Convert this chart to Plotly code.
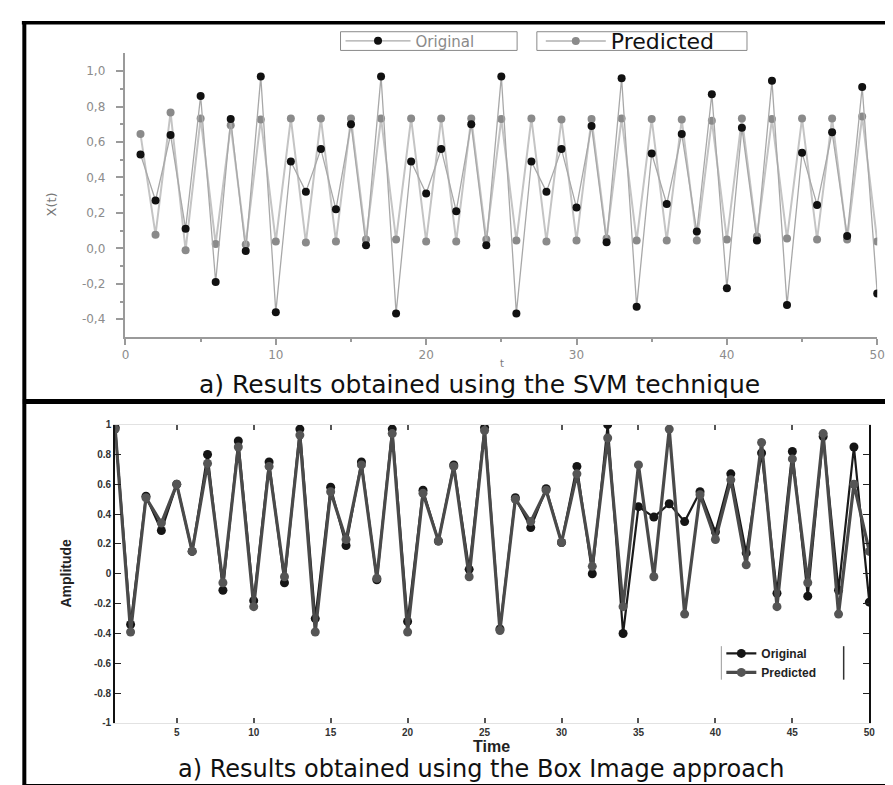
import plotly.graph_objects as go

W, H = 893, 785

# ---------------- data ----------------
t_svm = list(range(1, 51))
svm_original = [0.53, 0.27, 0.64, 0.11, 0.86, -0.19, 0.73, -0.015, 0.97, -0.36,
                0.49, 0.32, 0.56, 0.22, 0.70, 0.017, 0.97, -0.367, 0.49, 0.31,
                0.56, 0.21, 0.70, 0.017, 0.97, -0.367, 0.49, 0.32, 0.56, 0.23,
                0.69, 0.035, 0.96, -0.33, 0.535, 0.25, 0.645, 0.095, 0.87, -0.225,
                0.68, 0.045, 0.945, -0.32, 0.54, 0.245, 0.655, 0.07, 0.91, -0.255]
svm_predicted = [0.645, 0.077, 0.767, -0.01, 0.733, 0.025, 0.694, 0.022, 0.727, 0.039,
                 0.733, 0.033, 0.733, 0.039, 0.733, 0.05, 0.733, 0.05, 0.733, 0.039,
                 0.733, 0.039, 0.733, 0.05, 0.73, 0.044, 0.733, 0.039, 0.727, 0.044,
                 0.73, 0.055, 0.733, 0.044, 0.73, 0.044, 0.727, 0.044, 0.72, 0.05,
                 0.733, 0.067, 0.73, 0.055, 0.733, 0.05, 0.733, 0.05, 0.744, 0.039]

t_box = list(range(1, 51))
box_original = [0.98, -0.34, 0.52, 0.29, 0.60, 0.15, 0.80, -0.11, 0.89, -0.18,
                0.75, -0.06, 0.97, -0.30, 0.58, 0.19, 0.75, -0.04, 0.97, -0.32,
                0.56, 0.22, 0.73, 0.03, 0.98, -0.37, 0.51, 0.31, 0.57, 0.21,
                0.72, 0.00, 1.00, -0.40, 0.45, 0.38, 0.47, 0.35, 0.55, 0.28,
                0.67, 0.14, 0.81, -0.13, 0.82, -0.15, 0.92, -0.11, 0.85, -0.19]
box_predicted = [0.97, -0.39, 0.51, 0.34, 0.60, 0.15, 0.74, -0.06, 0.85, -0.22,
                 0.72, -0.02, 0.93, -0.39, 0.55, 0.23, 0.73, -0.03, 0.94, -0.39,
                 0.54, 0.22, 0.72, -0.02, 0.96, -0.38, 0.50, 0.35, 0.56, 0.21,
                 0.67, 0.05, 0.91, -0.22, 0.73, -0.02, 0.97, -0.27, 0.53, 0.23,
                 0.63, 0.06, 0.88, -0.22, 0.77, -0.06, 0.94, -0.27, 0.60, 0.15]

svm_yticks = [-0.4, -0.2, 0.0, 0.2, 0.4, 0.6, 0.8, 1.0]
svm_yticklabels = ["-0,4", "-0,2", "0,0", "0,2", "0,4", "0,6", "0,8", "1,0"]
svm_xticks = [0, 10, 20, 30, 40, 50]
box_yticks = [-1, -0.8, -0.6, -0.4, -0.2, 0, 0.2, 0.4, 0.6, 0.8, 1]
box_yticklabels = ["-1", "-0.8", "-0.6", "-0.4", "-0.2", "0", "0.2", "0.4", "0.6", "0.8", "1"]
box_xticks = [5, 10, 15, 20, 25, 30, 35, 40, 45, 50]

title_svm = "a) Results obtained using the SVM technique"
title_box = "a) Results obtained using the Box Image approach"


def px(x):
    return x / W


def py(y):
    return 1 - y / H


fig = go.Figure()

# ---------------- top panel (SVM) ----------------
fig.add_trace(go.Scatter(
    x=t_svm, y=svm_predicted, name="Predicted", mode="lines+markers",
    line=dict(color="#c4c4c4", width=2),
    marker=dict(color="#8a8a8a", size=8),
    xaxis="x", yaxis="y", legend="legend2"))
fig.add_trace(go.Scatter(
    x=t_svm, y=svm_original, name="Original", mode="lines+markers",
    line=dict(color="#a8a8a8", width=1.3),
    marker=dict(color="#111111", size=8),
    xaxis="x", yaxis="y", legend="legend"))

# ---------------- bottom panel (Box Image) ----------------
fig.add_trace(go.Scatter(
    x=t_box, y=box_original, name="Original", mode="lines+markers",
    line=dict(color="#1a1a1a", width=2.2),
    marker=dict(color="#151515", size=9),
    xaxis="x2", yaxis="y2", legend="legend3"))
fig.add_trace(go.Scatter(
    x=t_box, y=box_predicted, name="Predicted", mode="lines+markers",
    line=dict(color="#4a4a4a", width=3.2),
    marker=dict(color="#555555", size=9),
    xaxis="x2", yaxis="y2", legend="legend3"))

grey = "#9a9a9a"
fig.update_layout(
    width=W, height=H,
    margin=dict(l=0, r=0, t=0, b=0),
    paper_bgcolor="white", plot_bgcolor="white",
    font=dict(family="DejaVu Sans", color="#222"),
    xaxis=dict(domain=[px(115), px(877)], range=[0, 50], anchor="y",
               tickvals=svm_xticks, ticks="outside", ticklen=6, tickwidth=1.5,
               tickcolor=grey, showline=True, linecolor=grey, linewidth=1.5,
               showgrid=False, zeroline=False,
               tickfont=dict(family="DejaVu Sans", size=12, color="#8c8c8c"),
               minor=dict(tickvals=[5, 15, 25, 35, 45], ticks="outside",
                          ticklen=3, tickcolor=grey, tickwidth=1.5)),
    yaxis=dict(domain=[py(328), py(40)], range=[-0.5, 1.1], anchor="x",
               tickvals=svm_yticks, ticktext=svm_yticklabels,
               ticks="outside", ticklen=8, tickwidth=1.5, tickcolor=grey,
               showline=True, linecolor=grey, linewidth=1.5,
               showgrid=False, zeroline=False, ticklabelstandoff=8,
               tickfont=dict(family="DejaVu Sans", size=12, color="#8c8c8c"),
               minor=dict(tickvals=[-0.3, -0.1, 0.1, 0.3, 0.5, 0.7, 0.9],
                          ticks="outside", ticklen=4, tickcolor=grey, tickwidth=1.5)),
    xaxis2=dict(domain=[px(104.6), px(869)], range=[1, 50], anchor="y2",
                tickvals=box_xticks, ticks="inside", ticklen=5, tickwidth=1.5,
                tickcolor="#555", showline=True, linecolor="#e2e2e2", linewidth=1,
                mirror="ticks", showgrid=False, zeroline=False,
                tickfont=dict(family="Liberation Sans", size=10, color="#333",
                              weight="bold")),
    yaxis2=dict(domain=[py(720), py(417)], range=[-1, 1], anchor="x2",
                tickvals=box_yticks, ticktext=box_yticklabels,
                ticks="inside", ticklen=6, tickwidth=1.2, tickcolor="#222",
                showline=True, linecolor="#111", linewidth=2, mirror="ticks",
                showgrid=False, zeroline=False,
                tickfont=dict(family="Liberation Sans", size=10, color="#333",
                              weight="bold")),
    legend=dict(x=px(333), y=py(27.5), xanchor="left", yanchor="middle",
                orientation="h", borderwidth=0, bgcolor="rgba(0,0,0,0)",
                itemwidth=65,
                font=dict(family="DejaVu Sans", size=15, color="#8a8a8a")),
    legend2=dict(x=px(536), y=py(27.5), xanchor="left", yanchor="middle",
                 orientation="h", borderwidth=0, bgcolor="rgba(0,0,0,0)",
                 itemwidth=60,
                 font=dict(family="DejaVu Sans", size=22, color="#111")),
    legend3=dict(x=px(719), y=py(659), xanchor="left", yanchor="middle",
                 orientation="v", borderwidth=0, bgcolor="rgba(0,0,0,0)",
                 tracegroupgap=0, itemwidth=30,
                 font=dict(family="Liberation Sans", size=12, color="#222",
                           weight="bold")),
    showlegend=True,
)

# axis titles and panel captions as text
ann = [
    dict(text="X(t)", x=px(40), y=py(193), textangle=-90,
         font=dict(family="DejaVu Sans", size=13, color="#777")),
    dict(text="t", x=px(497), y=py(355),
         font=dict(family="DejaVu Sans", size=10, color="#777")),
    dict(text=title_svm, x=px(474), y=py(376),
         font=dict(family="DejaVu Sans", size=25, color="#111")),
    dict(text="Amplitude", x=px(55), y=py(568), textangle=-90,
         font=dict(family="Liberation Sans", size=14, color="#222", weight="bold")),
    dict(text="Time", x=px(486), y=py(744),
         font=dict(family="Liberation Sans", size=16, color="#222", weight="bold")),
    dict(text=title_box, x=px(475), y=py(767),
         font=dict(family="DejaVu Sans", size=24, color="#111")),
]
for a in ann:
    a.update(xref="paper", yref="paper", showarrow=False,
             xanchor="center", yanchor="middle")
fig.update_layout(annotations=ann)

# frame lines of the composite figure and legend boxes
lines = [
    dict(x0=10, x1=W, y0=9, y1=9, width=3.5),
    dict(x0=12.5, x1=12.5, y0=7, y1=H, width=4),
    dict(x0=11, x1=W, y0=393.5, y1=393.5, width=5),
    dict(x0=11, x1=W, y0=783.5, y1=783.5, width=3),
    # side strokes of the lower legend
    dict(x0=719, x1=719, y0=642, y1=676, width=1, color="#999"),
    dict(x0=843, x1=843, y0=642, y1=676, width=1.5, color="#333"),
]
for f in lines:
    fig.add_shape(type="line", xref="paper", yref="paper",
                  x0=px(f["x0"]), x1=px(f["x1"]), y0=py(f["y0"]), y1=py(f["y1"]),
                  line=dict(color=f.get("color", "black"), width=f["width"]))

boxes = [(333, 18, 512, 37), (532, 18, 745, 37)]
for (x0, y0, x1, y1) in boxes:
    fig.add_shape(type="rect", xref="paper", yref="paper",
                  x0=px(x0), x1=px(x1), y0=py(y0), y1=py(y1),
                  line=dict(color="#8a8a8a", width=1), fillcolor="rgba(0,0,0,0)")

fig.write_html("out.html")
